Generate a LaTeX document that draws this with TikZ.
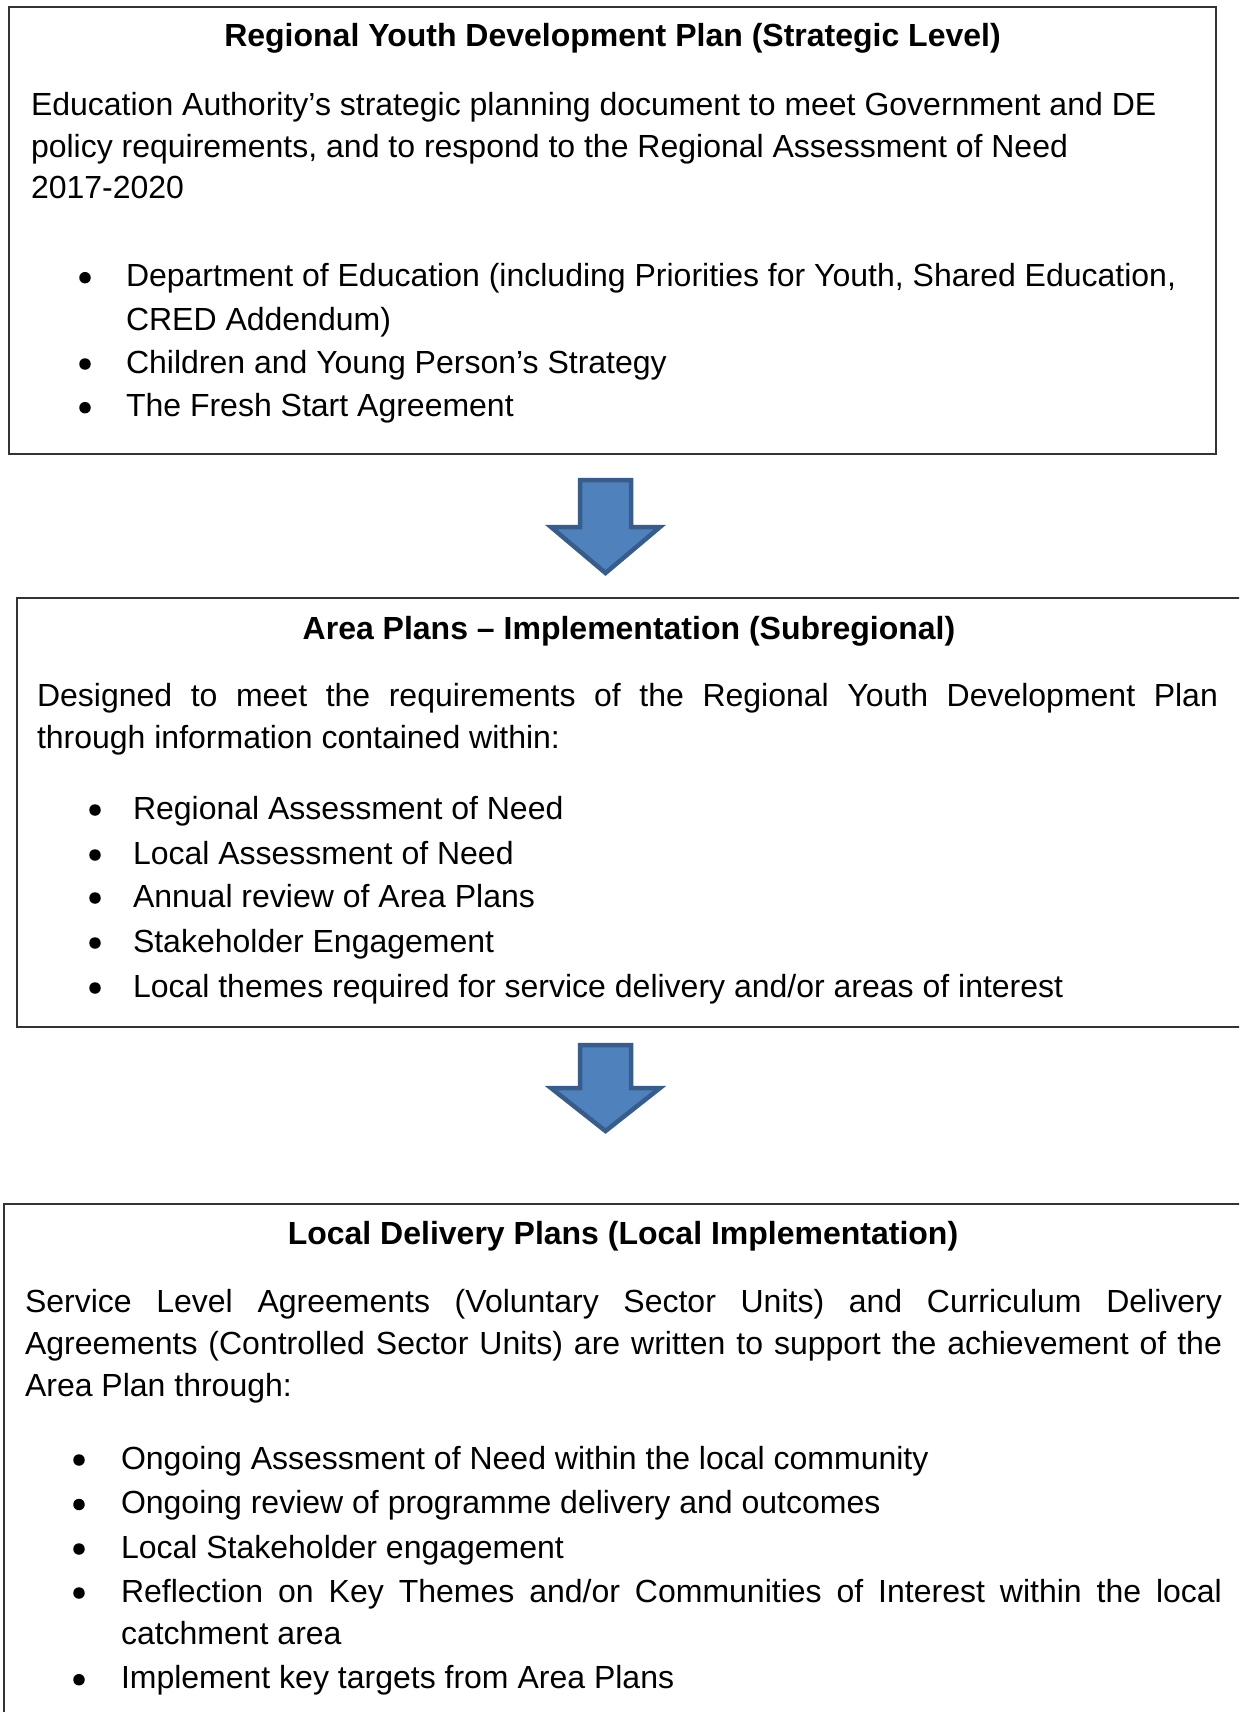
\documentclass[tikz,border=0pt]{standalone}
\usepackage{fontspec}
\setmainfont{Liberation Sans}
\begin{document}
\begin{tikzpicture}[x=1pt,y=-1pt,
  every node/.style={inner sep=0pt,outer sep=0pt,font=\fontsize{32}{40}\selectfont},
  box/.style={draw=black!80,line width=2pt},
  txt/.style={anchor=base west},
  ttl/.style={anchor=base,font=\fontsize{32}{40}\selectfont\bfseries},
  bul/.style={circle,fill=black,minimum size=11.5pt},
  barrow/.style={fill=arrowfill,draw=arrowline,line width=4.5pt,line join=miter}]
\definecolor{arrowfill}{HTML}{4F81BD}
\definecolor{arrowline}{HTML}{385D8A}
\useasboundingbox (0,0) rectangle (1239,1712);
\fill[white] (0,0) rectangle (1239,1712);
\clip (0,0) rectangle (1239,1712);

% boxes
\draw[box] (9,7) rectangle (1216,454);
\coordinate (b1s) at (605.5,454);
\draw[box] (16.5,598) rectangle (1260,1026.5);
\coordinate (b2n) at (605.5,598);
\coordinate (b2s) at (605.5,1026.5);
\draw[box] (4,1203.5) rectangle (1260,1740);
\coordinate (b3n) at (605.5,1203.5);

% box 1
\node[ttl] (t1) at (612.5,47) {Regional Youth Development Plan (Strategic Level)};
\node[txt] (p1a) at (31,116) {Education Authority’s strategic planning document to meet Government and DE};
\node[txt] (p1b) at (31,157.5) {policy requirements, and to respond to the Regional Assessment of Need};
\node[txt] (p1c) at (31,199) {2017-2020};
\node[bul] (d1a) at (85,277.7) {};
\node[txt] (l1a) at (126,286.7) {Department of Education (including Priorities for Youth, Shared Education,};
\node[txt] (l1b) at (126,330) {CRED Addendum)};
\node[bul] (d1c) at (85,364) {};
\node[txt] (l1c) at (126,373) {Children and Young Person’s Strategy};
\node[bul] (d1d) at (85,407.7) {};
\node[txt] (l1d) at (126,416.7) {The Fresh Start Agreement};

% arrow 1
\draw[barrow] ([xshift=-25.5pt,yshift=-26pt]b1s) -- ([xshift=25.5pt,yshift=-26pt]b1s)
  -- ([xshift=25.5pt,yshift=-73pt]b1s) -- ([xshift=54.5pt,yshift=-73pt]b1s)
  -- ([yshift=-119pt]b1s) -- ([xshift=-54.5pt,yshift=-73pt]b1s)
  -- ([xshift=-25.5pt,yshift=-73pt]b1s) -- cycle;

% box 2
\node[ttl] (t2) at (629,639) {Area Plans – Implementation (Subregional)};
\node[txt] (p2a) at (37,706.7) {\makebox[1181pt][s]{Designed to meet the requirements of the Regional Youth Development Plan}};
\node[txt] (p2b) at (37,748) {through information contained within:};
\node[bul] (d2a) at (95,810) {};
\node[txt] (l2a) at (133,819) {Regional Assessment of Need};
\node[bul] (d2b) at (95,855) {};
\node[txt] (l2b) at (133,864) {Local Assessment of Need};
\node[bul] (d2c) at (95,898) {};
\node[txt] (l2c) at (133,907) {Annual review of Area Plans};
\node[bul] (d2d) at (95,943) {};
\node[txt] (l2d) at (133,952) {Stakeholder Engagement};
\node[bul] (d2e) at (95,988) {};
\node[txt] (l2e) at (133,997) {Local themes required for service delivery and/or areas of interest};

% arrow 2
\draw[barrow] ([xshift=-25.5pt,yshift=-18.5pt]b2s) -- ([xshift=25.5pt,yshift=-18.5pt]b2s)
  -- ([xshift=25.5pt,yshift=-61.5pt]b2s) -- ([xshift=54.5pt,yshift=-61.5pt]b2s)
  -- ([yshift=-104.5pt]b2s) -- ([xshift=-54.5pt,yshift=-61.5pt]b2s)
  -- ([xshift=-25.5pt,yshift=-61.5pt]b2s) -- cycle;

% box 3
\node[ttl] (t3) at (623,1244) {Local Delivery Plans (Local Implementation)};
\node[txt] (p3a) at (25,1312.7) {\makebox[1197pt][s]{Service Level Agreements (Voluntary Sector Units) and Curriculum Delivery}};
\node[txt] (p3b) at (25,1354) {\makebox[1197pt][s]{Agreements (Controlled Sector Units) are written to support the achievement of the}};
\node[txt] (p3c) at (25,1396.7) {Area Plan through:};
\node[bul] (d3a) at (79,1460) {};
\node[txt] (l3a) at (121,1469) {Ongoing Assessment of Need within the local community};
\node[bul] (d3b) at (79,1504.5) {};
\node[txt] (l3b) at (121,1513.5) {Ongoing review of programme delivery and outcomes};
\node[bul] (d3c) at (79,1549) {};
\node[txt] (l3c) at (121,1558) {Local Stakeholder engagement};
\node[bul] (d3d) at (79,1593) {};
\node[txt] (l3d) at (121,1602) {\makebox[1101pt][s]{Reflection on Key Themes and/or Communities of Interest within the local}};
\node[txt] (l3e) at (121,1644.7) {catchment area};
\node[bul] (d3f) at (79,1679.7) {};
\node[txt] (l3f) at (121,1688.7) {Implement key targets from Area Plans};
\end{tikzpicture}
\end{document}
